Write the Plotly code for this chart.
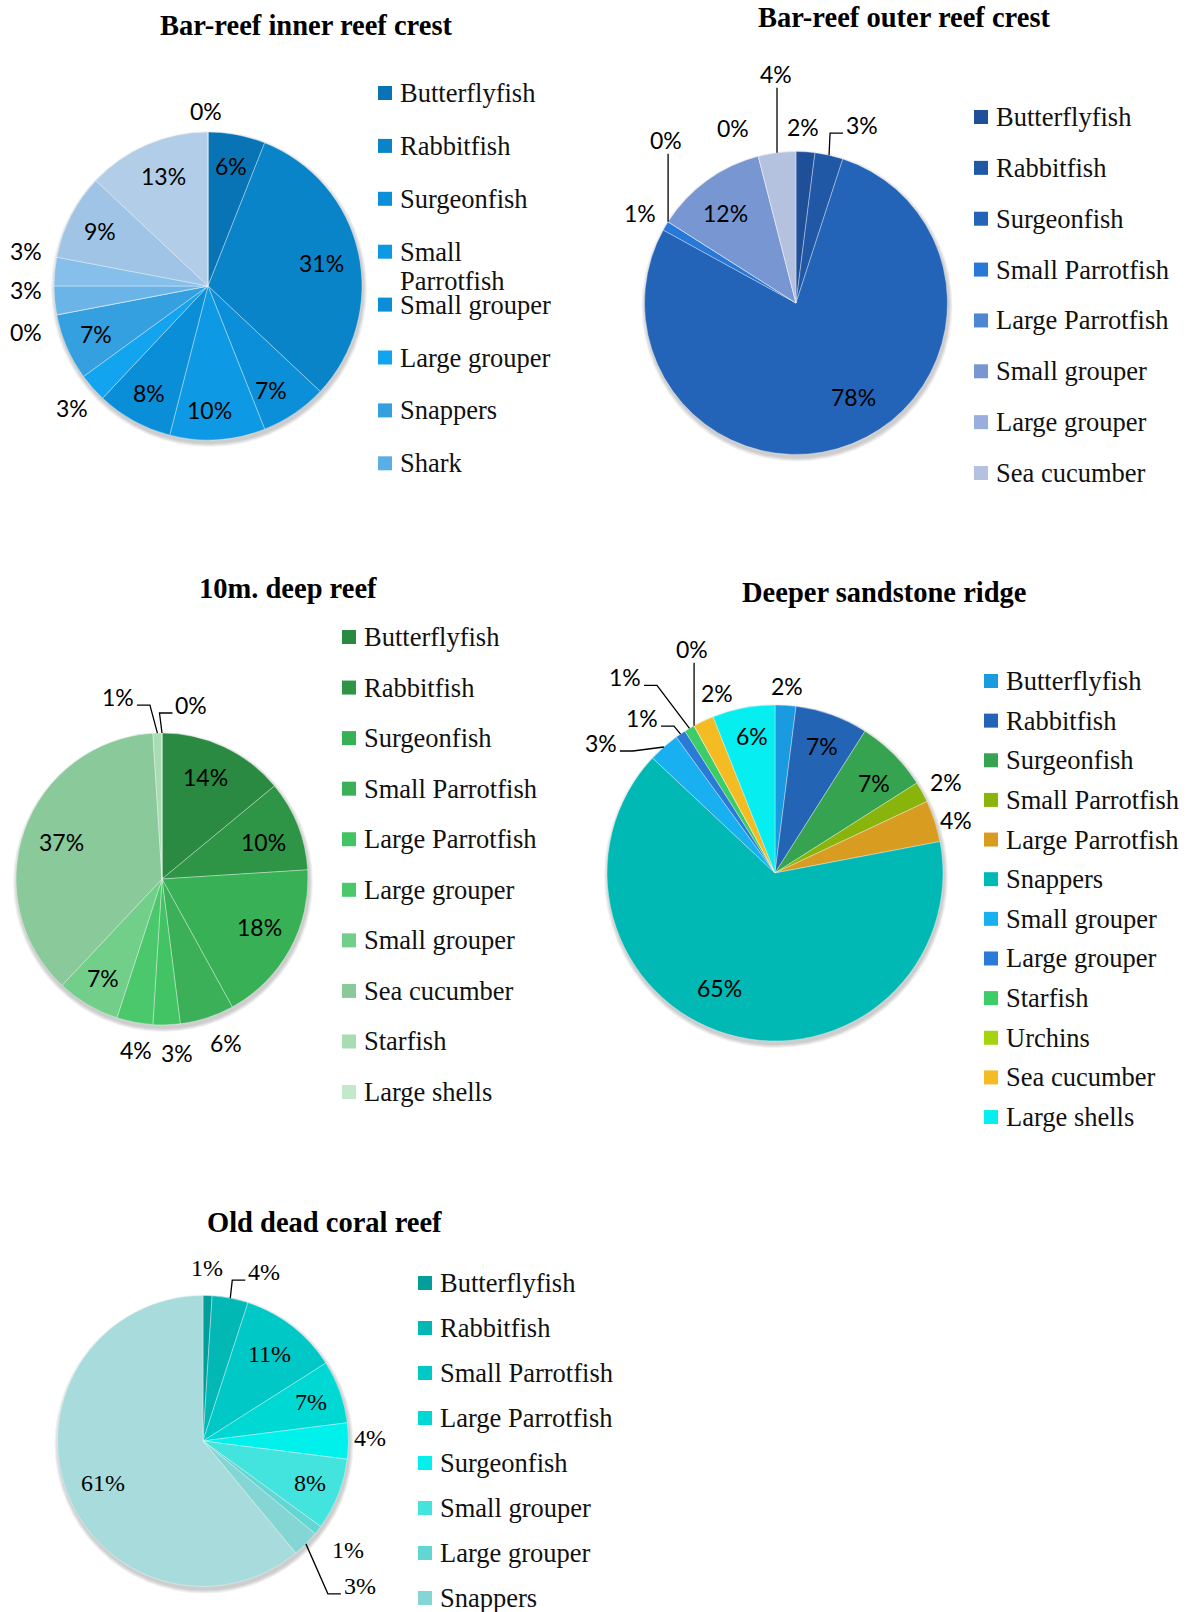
import math
import plotly.graph_objects as go

W, H = 1190, 1612

# ---------------- survey data: share of each group (%) ----------------
inner_labels = ["Butterflyfish", "Rabbitfish", "Surgeonfish", "Small Parrotfish",
                "Small grouper", "Large grouper", "Snappers", "Shark",
                "Large Parrotfish", "Starfish", "Urchins", "Sea cucumber", "Large shells"]
inner_values = [6, 31, 7, 10, 8, 3, 7, 0, 3, 3, 9, 13, 0]

outer_labels = ["Butterflyfish", "Rabbitfish", "Surgeonfish", "Small Parrotfish",
                "Large Parrotfish", "Small grouper", "Large grouper", "Sea cucumber"]
outer_values = [2, 3, 78, 1, 0, 12, 0, 4]

deep_labels = ["Butterflyfish", "Rabbitfish", "Surgeonfish", "Small Parrotfish",
               "Large Parrotfish", "Large grouper", "Small grouper", "Sea cucumber",
               "Starfish", "Large shells"]
deep_values = [14, 10, 18, 6, 3, 4, 7, 37, 1, 0]

ridge_labels = ["Butterflyfish", "Rabbitfish", "Surgeonfish", "Small Parrotfish",
                "Large Parrotfish", "Snappers", "Small grouper", "Large grouper",
                "Starfish", "Urchins", "Sea cucumber", "Large shells"]
ridge_values = [2, 7, 7, 2, 4, 65, 3, 1, 1, 0, 2, 6]

dead_labels = ["Butterflyfish", "Rabbitfish", "Small Parrotfish", "Large Parrotfish",
               "Surgeonfish", "Small grouper", "Large grouper", "Snappers", "Urchins"]
dead_values = [1, 4, 11, 7, 4, 8, 1, 3, 61]

# ---------------- styling ----------------
SERIF = "Liberation Serif"
SANS = "Lato"

inner_colors = ["#0874B6", "#0A84C8", "#0B8FD8", "#0E99E4", "#0A8ED8", "#12A4EE",
                "#35A0E0", "#5AAEE6", "#6AB4E8", "#86C0EA", "#A0C4E6", "#B2CDE8", "#C4DCF2"]
outer_colors = ["#1F4F99", "#2158A6", "#2464B8", "#2878D8", "#4D86D2", "#7896D2",
                "#98AEDC", "#B4C2E0"]
deep_colors = ["#2A8A42", "#2E9446", "#38B055", "#3BB058", "#42C464", "#4CC86C",
               "#72CF8A", "#8AC99A", "#A8DDB4", "#C4E8CC"]
ridge_colors = ["#1A9BE0", "#2464B4", "#35A350", "#88B40C", "#D89C20", "#00B8B4",
                "#18B0F0", "#2A7AD8", "#3CCC68", "#A4D410", "#F4BC22", "#06EEF0"]
dead_colors = ["#049E9A", "#02B8B4", "#00C8C6", "#00D8D4", "#00F0EC", "#44E4DE",
               "#62D6D2", "#84D6D4", "#A8DCDC"]

charts = [
    dict(title="Bar-reef inner reef crest", title_xy=(306, 26),
         labels=inner_labels, values=inner_values, colors=inner_colors,
         center=(208, 286), r=154, font=(SANS, 23), inside_f=0.79, outside_f=1.18,
         inside_nudge={1: (-5, 4), 2: (-5, 3), 3: (-6, 3), 11: (4, 2)},
         outside={5: (0, 2), 7: (-3, 12), 8: (-1, -13), 9: (-1, -18), 12: (-2, 7)},
         leaders={},
         legend=dict(x=378, y0=93, dy=52.9, rows=8, wrap={3})),
    dict(title="Bar-reef outer reef crest", title_xy=(904, 17),
         labels=outer_labels, values=outer_values, colors=outer_colors,
         center=(796, 303), r=151.5, font=(SANS, 23), inside_f=0.79, outside_f=1.17,
         inside_nudge={2: (13, -17), 5: (0, 7)},
         outside={0: (-4, 1), 3: (-3, 0), 6: (-19, -3)},
         leaders={1: ("elbow", 33, -30), 4: ("v", -2, -82), 7: ("v", -1, -79)},
         legend=dict(x=974, y0=117, dy=50.86, rows=8, wrap=set())),
    dict(title="10m. deep reef", title_xy=(288, 588),
         labels=deep_labels, values=deep_values, colors=deep_colors,
         center=(162, 879), r=146, font=(SANS, 23), inside_f=0.79, outside_f=1.18,
         inside_nudge={0: (-6, 2), 1: (-6, 5), 2: (-4, -8), 7: (8, 2)},
         outside={3: (11, 0), 4: (10, 2), 5: (6, 2)},
         leaders={8: ("elbow", -39.5, -36), 9: ("elbow", 29.5, -28)},
         legend=dict(x=342, y0=637, dy=50.56, rows=10, wrap=set())),
    dict(title="Deeper sandstone ridge", title_xy=(884, 592),
         labels=ridge_labels, values=ridge_values, colors=ridge_colors,
         center=(775, 873), r=168, font=(SANS, 23), inside_f=0.79, outside_f=1.13,
         inside_nudge={1: (2, -2), 2: (5, 4), 5: (-18, -12), 11: (2, -7)},
         outside={0: (0, 2), 3: (5, 0), 4: (0, 6), 10: (23, -8)},
         leaders={6: ("elbow", -63, -4), 7: ("elbow", -38.6, -16),
                  8: ("elbow", -64.5, -51), 9: ("v", -2, -77)},
         legend=dict(x=984, y0=681, dy=39.64, rows=12, wrap=set())),
    dict(title="Old dead coral reef", title_xy=(324, 1222),
         labels=dead_labels, values=dead_values, colors=dead_colors,
         center=(203, 1441), r=145.5, font=(SERIF, 24), inside_f=0.79, outside_f=1.17,
         inside_nudge={2: (-4, 4), 8: (8, 3)},
         outside={0: (-1, -3), 4: (-3, -3), 6: (10, 5)},
         leaders={1: ("elbow", 34, -26), 7: ("elbow", 54, 42)},
         legend=dict(x=418, y0=1283, dy=45, rows=8, wrap=set())),
]


def X(x):
    return x / W


def Y(y):
    return 1 - y / H


fig = go.Figure()
shapes = []
annotations = []

for spec in charts:
    labels, values, colors = spec["labels"], spec["values"], spec["colors"]
    cx, cy = spec["center"]
    r = spec["r"]

    # soft drop shadow under the pie
    for k in range(1, 5):
        R = r + k
        shapes.append(dict(type="circle", xref="paper", yref="paper", layer="below",
                           x0=X(cx + 1 - R), x1=X(cx + 1 + R),
                           y0=Y(cy + 3 + R), y1=Y(cy + 3 - R),
                           fillcolor="rgba(0,0,0,0.05)", line_width=0))

    fig.add_trace(go.Pie(
        labels=labels, values=values, sort=False, direction="clockwise", rotation=0,
        marker=dict(colors=colors, line=dict(color="rgba(255,255,255,0.45)", width=0.8)),
        textinfo="none", hoverinfo="label+percent", showlegend=False,
        domain=dict(x=[X(cx - r), X(cx + r)], y=[Y(cy + r), Y(cy - r)]),
    ))

    # percentage labels
    fam, size = spec["font"]
    total = float(sum(values))
    acc = 0.0
    for i, v in enumerate(values):
        ang = 2 * math.pi * (acc + v / 2.0) / total
        acc += v
        s, c = math.sin(ang), -math.cos(ang)
        rim = (cx + r * s, cy + r * c)
        if i in spec["leaders"]:
            kind, dx, dy = spec["leaders"][i]
            lx, ly = rim[0] + dx, rim[1] + dy
            if kind == "v":
                pts = [rim, (rim[0], ly + 14)]
            else:
                side = 1 if dx > 0 else -1
                end = (lx - side * 19, ly + 8)
                knee = (end[0] - side * 13, ly + 8)
                pts = [rim, knee, end]
            path = "M " + " L ".join(f"{X(px):.5f},{Y(py):.5f}" for px, py in pts)
            shapes.append(dict(type="path", xref="paper", yref="paper", path=path,
                               line=dict(color="#000", width=1.3)))
        elif i in spec["outside"]:
            ndx, ndy = spec["outside"][i]
            f = spec["outside_f"]
            lx, ly = cx + f * r * s + ndx, cy + f * r * c + ndy
        else:
            ndx, ndy = spec["inside_nudge"].get(i, (0, 0))
            f = spec["inside_f"]
            lx, ly = cx + f * r * s + ndx, cy + f * r * c + ndy
        annotations.append(dict(x=X(lx), y=Y(ly), xref="paper", yref="paper",
                                text=f"{v}%", showarrow=False,
                                xanchor="center", yanchor="middle",
                                font=dict(family=fam, size=size, color="#000")))

    # title
    tx, ty = spec["title_xy"]
    annotations.append(dict(x=X(tx), y=Y(ty), xref="paper", yref="paper",
                            text=f"<b>{spec['title']}</b>", showarrow=False,
                            xanchor="center", yanchor="middle",
                            font=dict(family=SERIF, size=28.5, color="#000")))

    # legend: colour squares with category names
    lg = spec["legend"]
    for k in range(lg["rows"]):
        y = lg["y0"] + k * lg["dy"]
        shapes.append(dict(type="rect", xref="paper", yref="paper",
                           x0=X(lg["x"]), x1=X(lg["x"] + 14),
                           y0=Y(y + 7), y1=Y(y - 7),
                           fillcolor=colors[k], line_width=0))
        name = labels[k]
        parts = name.split(" ", 1) if k in lg["wrap"] else [name]
        for j, part in enumerate(parts):
            annotations.append(dict(x=X(lg["x"] + 20), y=Y(y + j * 29),
                                    xref="paper", yref="paper", text=part,
                                    showarrow=False, xanchor="left", yanchor="middle",
                                    font=dict(family=SERIF, size=26.5, color="#111")))

fig.update_layout(
    width=W, height=H,
    margin=dict(l=0, r=0, t=0, b=0),
    paper_bgcolor="white", plot_bgcolor="white",
    showlegend=False,
    shapes=shapes, annotations=annotations,
)

fig.write_html("out.html")
